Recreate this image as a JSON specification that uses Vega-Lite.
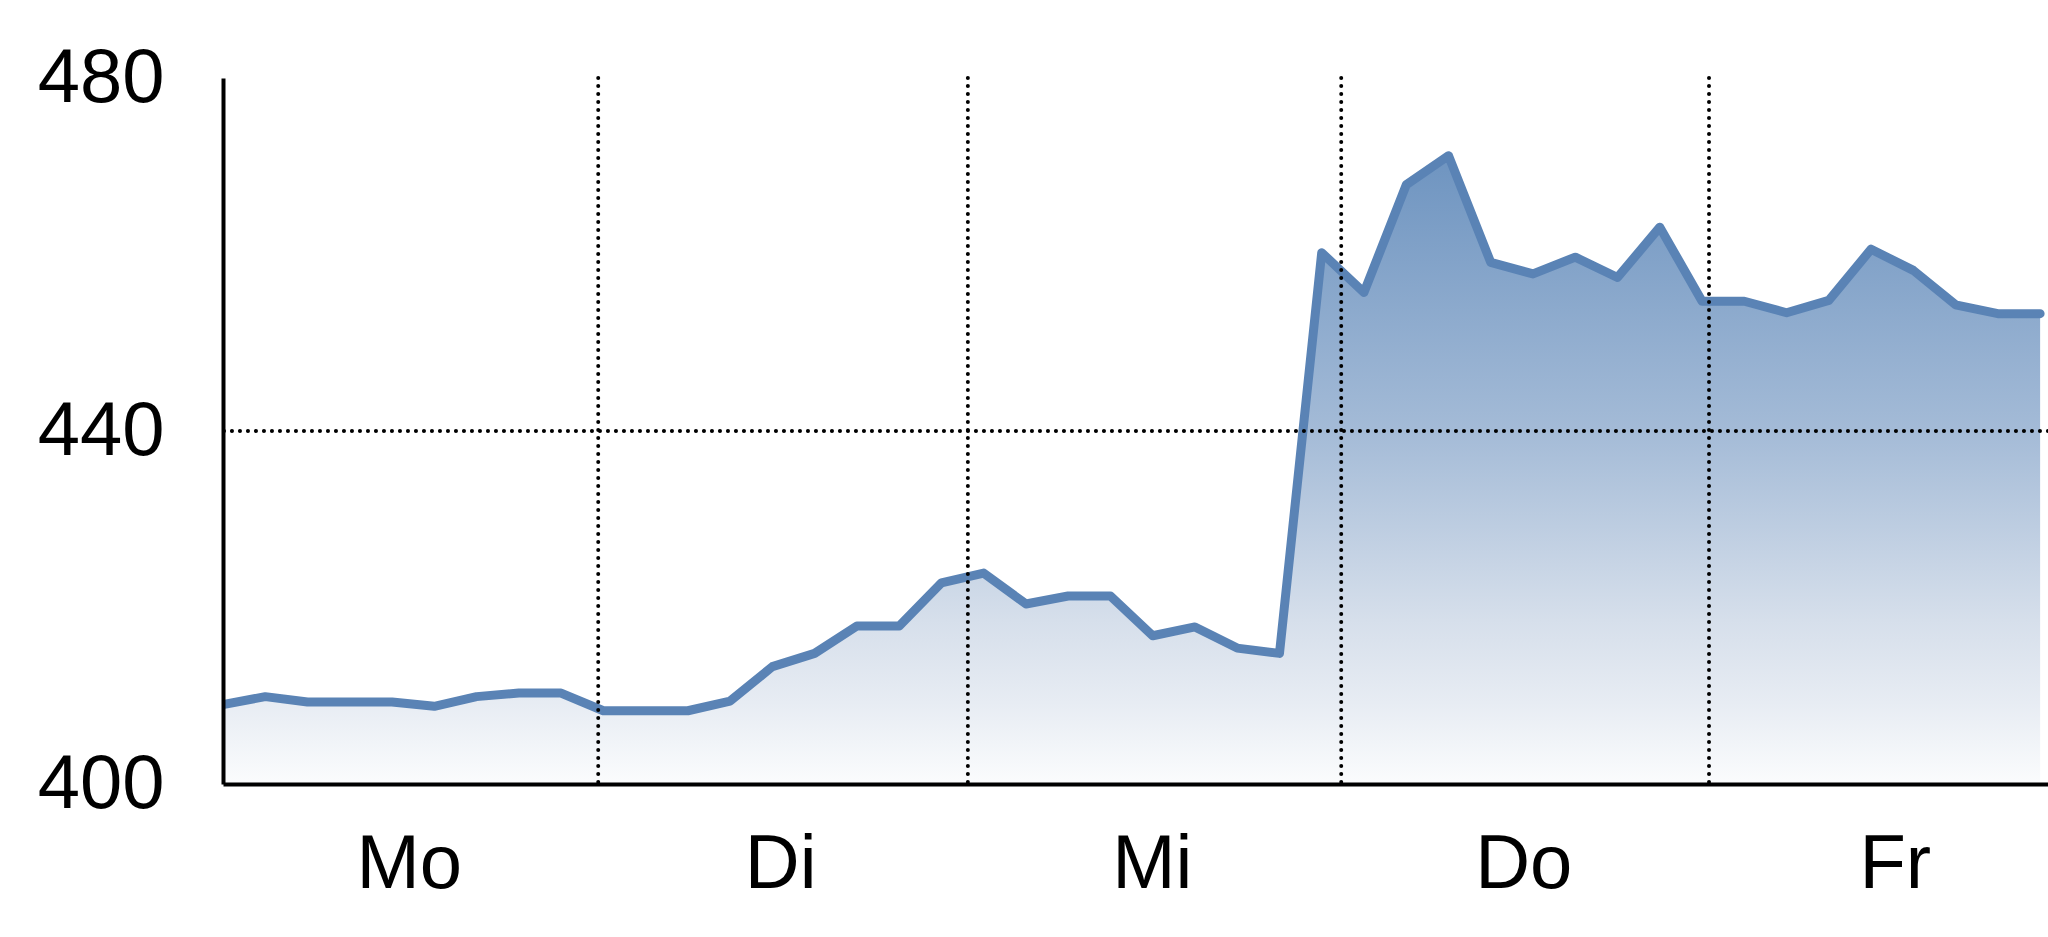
{
  "$schema": "https://vega.github.io/schema/vega-lite/v6.json",
  "width": 1825,
  "height": 706,
  "autosize": {"type": "none"},
  "padding": {"left": 223, "top": 78, "right": 0, "bottom": 153},
  "background": "white",
  "config": {
    "view": {"stroke": null},
    "axis": {
      "labelFont": "Liberation Sans Narrow, Arial Narrow, Liberation Sans, sans-serif",
      "labelFontSize": 76,
      "labelColor": "black",
      "domainColor": "black",
      "domainWidth": 4,
      "ticks": false,
      "tickSize": 0,
      "grid": false,
      "title": null
    }
  },
  "datasets": {
    "series": [
      {"t": 0, "v": 409.0},
      {"t": 0.1138, "v": 409.9},
      {"t": 0.2275, "v": 409.3},
      {"t": 0.3413, "v": 409.3},
      {"t": 0.455, "v": 409.3},
      {"t": 0.5688, "v": 408.8},
      {"t": 0.6825, "v": 409.9},
      {"t": 0.7963, "v": 410.3},
      {"t": 0.91, "v": 410.3},
      {"t": 1.0238, "v": 408.3},
      {"t": 1.1375, "v": 408.3},
      {"t": 1.2513, "v": 408.3},
      {"t": 1.365, "v": 409.4},
      {"t": 1.4788, "v": 413.3},
      {"t": 1.5925, "v": 414.8},
      {"t": 1.7063, "v": 417.9},
      {"t": 1.82, "v": 417.9},
      {"t": 1.9338, "v": 422.8},
      {"t": 2.0475, "v": 423.9},
      {"t": 2.1613, "v": 420.4},
      {"t": 2.275, "v": 421.3},
      {"t": 2.3888, "v": 421.3},
      {"t": 2.5025, "v": 416.8},
      {"t": 2.6163, "v": 417.8},
      {"t": 2.73, "v": 415.4},
      {"t": 2.8438, "v": 414.8},
      {"t": 2.9575, "v": 460.2},
      {"t": 3.0713, "v": 455.7},
      {"t": 3.185, "v": 467.9},
      {"t": 3.2988, "v": 471.2},
      {"t": 3.4125, "v": 459.1},
      {"t": 3.5263, "v": 457.8},
      {"t": 3.64, "v": 459.7},
      {"t": 3.7538, "v": 457.4},
      {"t": 3.8675, "v": 463.1},
      {"t": 3.9813, "v": 454.7},
      {"t": 4.095, "v": 454.7},
      {"t": 4.2088, "v": 453.4},
      {"t": 4.3225, "v": 454.8},
      {"t": 4.4363, "v": 460.6},
      {"t": 4.55, "v": 458.2},
      {"t": 4.6638, "v": 454.3},
      {"t": 4.7775, "v": 453.3},
      {"t": 4.8913, "v": 453.3}
    ],
    "days": [{"t": 1.01}, {"t": 2.005}, {"t": 3.01}, {"t": 4}],
    "hgrid": [{"v": 440}]
  },
  "layer": [
    {
      "data": {"name": "series"},
      "mark": {
        "type": "area",
        "clip": true,
        "color": {
          "gradient": "linear",
          "x1": 0, "y1": 0, "x2": 0, "y2": 1,
          "stops": [
            {"offset": 0, "color": "#6e94c0"},
            {"offset": 0.44, "color": "#a4bbd7"},
            {"offset": 0.74, "color": "#d6dfeb"},
            {"offset": 0.87, "color": "#e7ecf3"},
            {"offset": 1, "color": "#fbfcfd"}
          ]
        }
      },
      "encoding": {
        "x": {
          "field": "t", "type": "quantitative",
          "scale": {"domain": [0, 4.9125], "nice": false, "zero": false},
          "axis": {
            "values": [0.5, 1.5, 2.5, 3.5, 4.5],
            "labelExpr": "['Mo','Di','Mi','Do','Fr'][floor(datum.value)]",
            "labelPadding": 43,
            "labelFlush": false,
            "labelOverlap": false,
            "zindex": 1
          }
        },
        "y": {
          "field": "v", "type": "quantitative",
          "scale": {"domain": [400, 480], "nice": false, "zero": false},
          "axis": {
            "values": [400, 440, 480],
            "labelPadding": 59,
            "labelFlush": false,
            "labelOverlap": false,
            "zindex": 1
          }
        },
        "y2": {"datum": 400}
      }
    },
    {
      "data": {"name": "series"},
      "mark": {"type": "line", "color": "#5a83b5", "strokeWidth": 9, "strokeCap": "round", "strokeJoin": "round", "clip": true},
      "encoding": {
        "x": {"field": "t", "type": "quantitative"},
        "y": {"field": "v", "type": "quantitative"}
      }
    },
    {
      "data": {"name": "days"},
      "mark": {"type": "rule", "color": "black", "strokeWidth": 4, "strokeDash": [0.1, 7.9], "strokeCap": "round"},
      "encoding": {
        "x": {"field": "t", "type": "quantitative"}
      }
    },
    {
      "data": {"name": "hgrid"},
      "mark": {"type": "rule", "color": "black", "strokeWidth": 4, "strokeDash": [0.1, 7.9], "strokeCap": "round"},
      "encoding": {
        "y": {"field": "v", "type": "quantitative"}
      }
    }
  ]
}
